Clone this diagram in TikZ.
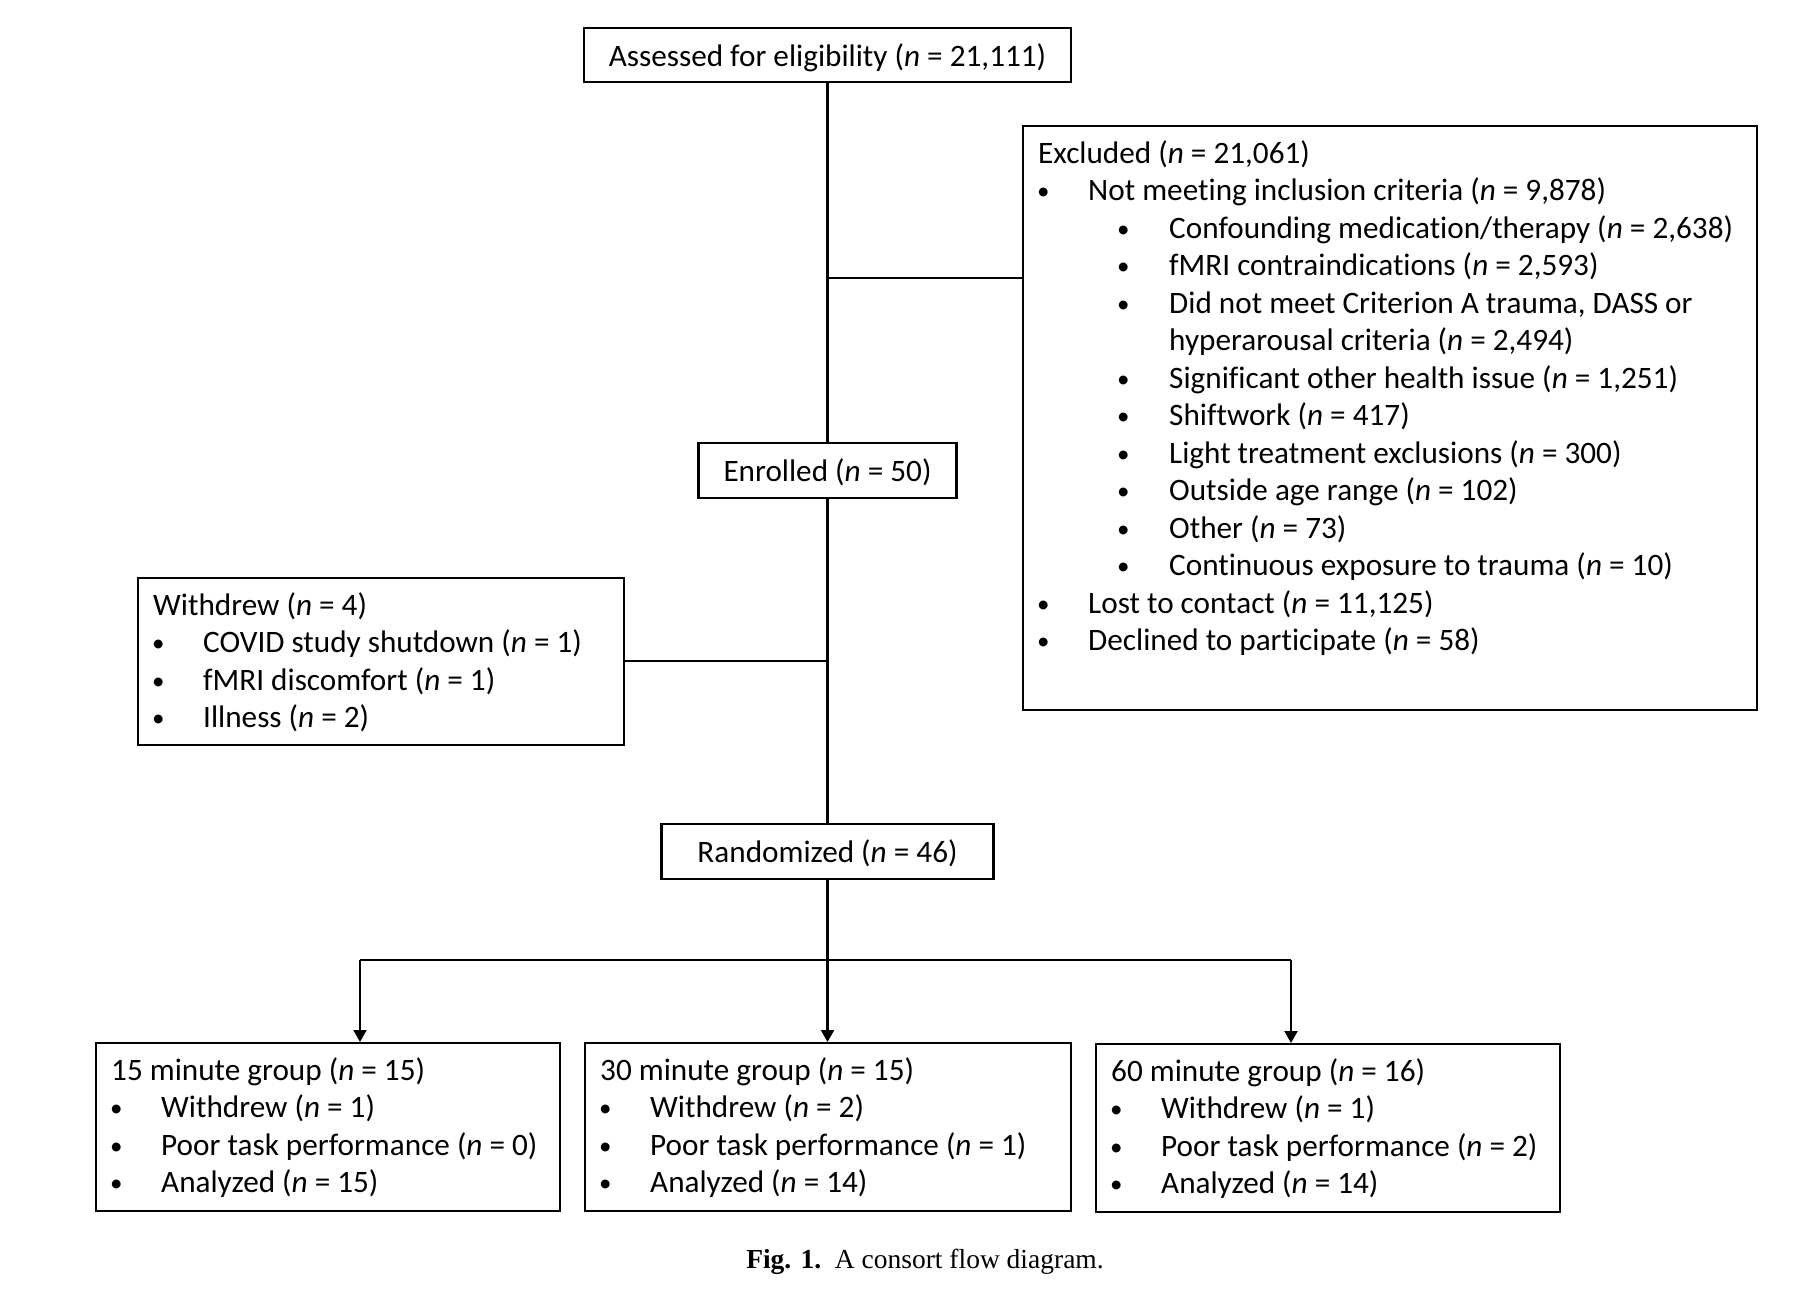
\documentclass[tikz,border=0pt]{standalone}
\usepackage{fontspec}
\setmainfont{Carlito}[Ligatures=NoCommon]
\newfontfamily\capfont{Liberation Serif}
\usetikzlibrary{arrows.meta}
\newcommand{\nn}{\textit{n}}
\newcommand{\bul}{\raisebox{1pt}{\scalebox{0.8}{\textbullet}}}
\newcommand{\itA}[1]{\makebox[50pt][l]{\hspace*{-1pt}\bul}#1}
\newcommand{\itB}[1]{\hspace*{79pt}\makebox[52pt][l]{\bul}#1}
\newcommand{\firstln}{\rule{0pt}{38pt}}
\begin{document}
\begin{tikzpicture}[x=1pt,y=-1pt,
  every node/.style={font=\fontsize{31.2}{37.5}\selectfont},
  box/.style={draw, line width=2.2pt, inner sep=0pt, anchor=north west},
  cbox/.style={draw, line width=2.2pt, inner sep=0pt, text height=28pt, text depth=6pt},
  txt/.style={anchor=north west, inner sep=0pt, align=left},
  conn/.style={line width=2.2pt},
  arr/.style={line width=2.2pt, -{Triangle[width=13pt,length=12pt]}}]
\useasboundingbox (0,0) rectangle (1800,1302);

% single-line boxes
\node[cbox, minimum width=487pt, minimum height=54pt] (assess) at (827.5,55) {Assessed for eligibility (\nn{} = 21,111)};
\node[cbox, minimum width=258pt, minimum height=55pt] (enrol) at (827.5,470.5) {Enrolled (\nn{} = 50)};
\node[cbox, minimum width=332pt, minimum height=55pt] (rand) at (827.5,851.5) {Randomized (\nn{} = 46)};

% Excluded
\node[box, minimum width=734pt, minimum height=584pt] (excl) at (1022,125) {};
\node[txt] (excl-t) at (1038,125) {\firstln Excluded (\nn{} = 21,061)\\
\itA{Not meeting inclusion criteria (\nn{} = 9,878)}\\
\itB{Confounding medication/therapy (\nn{} = 2,638)}\\
\itB{fMRI contraindications (\nn{} = 2,593)}\\
\itB{Did not meet Criterion A trauma, DASS or}\\
\hspace*{131pt}hyperarousal criteria (\nn{} = 2,494)\\
\itB{Significant other health issue (\nn{} = 1,251)}\\
\itB{Shiftwork (\nn{} = 417)}\\
\itB{Light treatment exclusions (\nn{} = 300)}\\
\itB{Outside age range (\nn{} = 102)}\\
\itB{Other (\nn{} = 73)}\\
\itB{Continuous exposure to trauma (\nn{} = 10)}\\
\itA{Lost to contact (\nn{} = 11,125)}\\
\itA{Declined to participate (\nn{} = 58)}};

% Withdrew
\node[box, minimum width=486pt, minimum height=167pt] (wd) at (137,577) {};
\node[txt] (wd-t) at (153,577) {\firstln Withdrew (\nn{} = 4)\\
\itA{COVID study shutdown (\nn{} = 1)}\\
\itA{fMRI discomfort (\nn{} = 1)}\\
\itA{Illness (\nn{} = 2)}};

% groups
\node[box, minimum width=464pt, minimum height=168pt] (g15) at (95,1042) {};
\node[txt] (g15-t) at (111,1042) {\firstln 15 minute group (\nn{} = 15)\\
\itA{Withdrew (\nn{} = 1)}\\
\itA{Poor task performance (\nn{} = 0)}\\
\itA{Analyzed (\nn{} = 15)}};
\node[box, minimum width=486pt, minimum height=168pt] (g30) at (584,1042) {};
\node[txt] (g30-t) at (600,1042) {\firstln 30 minute group (\nn{} = 15)\\
\itA{Withdrew (\nn{} = 2)}\\
\itA{Poor task performance (\nn{} = 1)}\\
\itA{Analyzed (\nn{} = 14)}};
\node[box, minimum width=464pt, minimum height=168pt] (g60) at (1095,1043) {};
\node[txt] (g60-t) at (1111,1043) {\firstln 60 minute group (\nn{} = 16)\\
\itA{Withdrew (\nn{} = 1)}\\
\itA{Poor task performance (\nn{} = 2)}\\
\itA{Analyzed (\nn{} = 14)}};

% connectors
\coordinate (jx) at (827.5,278);
\coordinate (jw) at (827.5,661);
\coordinate (bl) at (360,960);
\coordinate (br) at (1291,960);
\draw[conn] (assess.south) -- (enrol.north);
\draw[conn] (enrol.south) -- (rand.north);
\draw[conn] (jx) -- (jx -| excl.west);
\draw[conn] (jw) -- (jw -| wd.east);
\draw[conn] (bl) -- (br);
\draw[arr] (rand.south) -- (rand.south |- g30.north);
\draw[arr] (bl) -- (bl |- g15.north);
\draw[arr] (br) -- (br |- g60.north);

% caption
\node[anchor=base, inner sep=0pt, font=\capfont\fontsize{27.5}{32}\selectfont] (cap) at (925,1268) {\textbf{Fig. 1.}\enspace A consort flow diagram.};
\end{tikzpicture}
\end{document}
